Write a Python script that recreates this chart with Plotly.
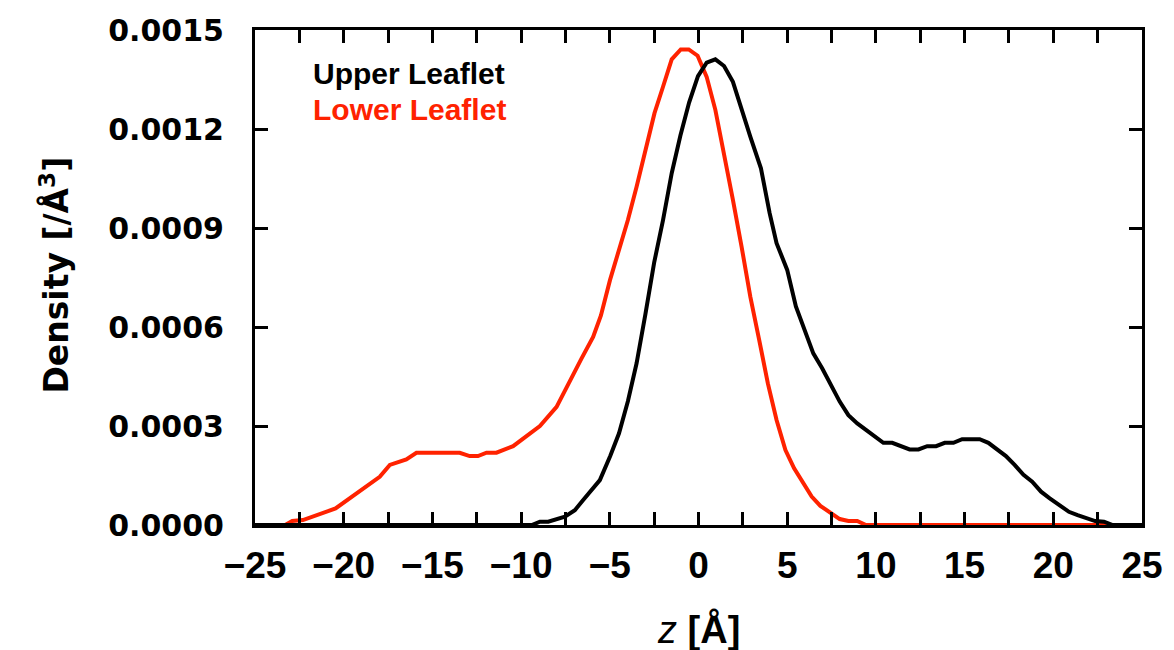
import plotly.graph_objects as go

upper_z = [-25, -9.4, -8.94, -8.47, -7.53, -6.97, -6.5, -6.03, -5.56, -4.97, -4.48, -3.98, -3.49,
           -2.99, -2.5, -2.0, -1.51, -1.02, -0.53, -0.03, 0.46, 0.95, 1.44, 1.94, 2.43, 2.92,
           3.52, 4.01, 4.4, 5.0, 5.49, 5.98, 6.47, 6.97, 7.46, 7.96, 8.45, 8.95, 9.44, 9.93,
           10.42, 10.92, 11.41, 11.9, 12.4, 12.89, 13.39, 13.88, 14.37, 14.86, 15.36, 15.85,
           16.34, 16.84, 17.33, 17.82, 18.32, 18.81, 19.31, 19.8, 20.29, 20.88, 21.37, 21.87,
           22.36, 22.86, 23.35, 25]
upper_d = [0, 0, 0.00001, 0.00001, 0.000025, 0.000045, 0.000076, 0.000106, 0.000136, 0.000210,
           0.000278, 0.000375, 0.000490, 0.000640, 0.000795, 0.000924, 0.001066, 0.001180,
           0.001280, 0.001360, 0.001401, 0.001411, 0.001391, 0.001343, 0.001258, 0.001177,
           0.001081, 0.000945, 0.000854, 0.000773, 0.000662, 0.000591, 0.000520, 0.000475,
           0.000424, 0.000374, 0.000333, 0.000308, 0.000288, 0.000270, 0.000249, 0.000249,
           0.000239, 0.000229, 0.000229, 0.000239, 0.000239, 0.000249, 0.000249, 0.000260,
           0.000260, 0.000260, 0.000249, 0.000229, 0.000209, 0.000182, 0.000152, 0.000131,
           0.000101, 0.000081, 0.000061, 0.000040, 0.000030, 0.000020, 0.000012, 0.000010, 0, 0]

lower_z = [-25, -23.3, -22.9, -22.3, -20.46, -17.97, -17.4, -16.47, -15.9, -13.46, -12.9, -12.43,
           -11.95, -11.39, -10.45, -9.7, -8.94, -8.0, -7.44, -6.59, -5.94, -5.5, -4.99, -4.52,
           -3.98, -3.49, -3.0, -2.48, -2.0, -1.51, -1.0, -0.55, -0.05, 0.46, 0.95, 1.44, 1.94,
           2.43, 2.92, 3.42, 3.91, 4.4, 4.9, 5.39, 5.89, 6.38, 6.87, 7.47, 7.96, 8.45, 8.95,
           9.44, 25]
lower_d = [0, 0, 0.000012, 0.000015, 0.00005, 0.000146, 0.000182, 0.000199, 0.000219, 0.000219,
           0.000209, 0.000209, 0.000219, 0.000219, 0.000239, 0.00027, 0.0003, 0.000358,
           0.000419, 0.000505, 0.00057, 0.000635, 0.000742, 0.000823, 0.000924, 0.001025,
           0.001131, 0.001248, 0.001328, 0.001411, 0.001441, 0.001441, 0.001422, 0.001358,
           0.001258, 0.001126, 0.000985, 0.000843, 0.000692, 0.000561, 0.000429, 0.000318,
           0.000227, 0.000172, 0.000126, 0.000086, 0.000058, 0.000035, 0.000018, 0.000012,
           0.000012, 0, 0]

series_names = ["Upper Leaflet", "Lower Leaflet"]
colors = ["#000000", "#ff2200"]

FONT = "Liberation Sans, Arial, Helvetica, sans-serif"
WIDE = "DejaVu Sans, Liberation Sans, sans-serif"

fig = go.Figure()
fig.add_trace(go.Scatter(x=lower_z, y=lower_d, mode="lines", name=series_names[1],
                         line=dict(color=colors[1], width=4), showlegend=False))
fig.add_trace(go.Scatter(x=upper_z, y=upper_d, mode="lines", name=series_names[0],
                         line=dict(color=colors[0], width=4), showlegend=False))

axis_common = dict(showline=True, linecolor="black", linewidth=3, mirror="allticks",
                   ticks="inside", ticklen=13, tickwidth=3, tickcolor="black",
                   showgrid=False, zeroline=False, automargin=False)

fig.update_xaxes(range=[-25, 25], dtick=5, tick0=-25,
                 tickfont=dict(family=FONT, size=37, color="black", weight="bold"),
                 ticklabelstandoff=6,
                 minor=dict(dtick=2.5, ticks="inside", ticklen=13, tickwidth=3, tickcolor="black"),
                 **axis_common)
fig.update_yaxes(range=[0, 0.0015], dtick=0.0003, tickformat=".4f",
                 tickfont=dict(family=WIDE, size=30, color="black", weight="bold"),
                 ticklabelstandoff=22,
                 **axis_common)

annotations = [
    dict(text=series_names[0], x=0.063, y=0.912, xref="paper", yref="paper", xanchor="left",
         yanchor="middle", showarrow=False,
         font=dict(family=FONT, size=30, color=colors[0], weight="bold")),
    dict(text=series_names[1], x=0.063, y=0.839, xref="paper", yref="paper", xanchor="left",
         yanchor="middle", showarrow=False,
         font=dict(family=FONT, size=30, color=colors[1], weight="bold")),
    dict(text="<i>z</i> <b>[Å]</b>", x=0.5, y=-0.212, xref="paper", yref="paper", xanchor="center",
         yanchor="middle", showarrow=False,
         font=dict(family=FONT, size=38, color="black")),
    dict(text="Density [/Å<sup>3</sup>]", x=-0.226, y=0.505, xref="paper", yref="paper",
         xanchor="center", yanchor="middle", textangle=-90, showarrow=False,
         font=dict(family=WIDE, size=33, color="black", weight="bold")),
]

fig.update_layout(width=1166, height=642, margin=dict(l=247, r=32, t=22, b=125),
                  plot_bgcolor="white", paper_bgcolor="white", annotations=annotations)

fig.write_html("out.html")
